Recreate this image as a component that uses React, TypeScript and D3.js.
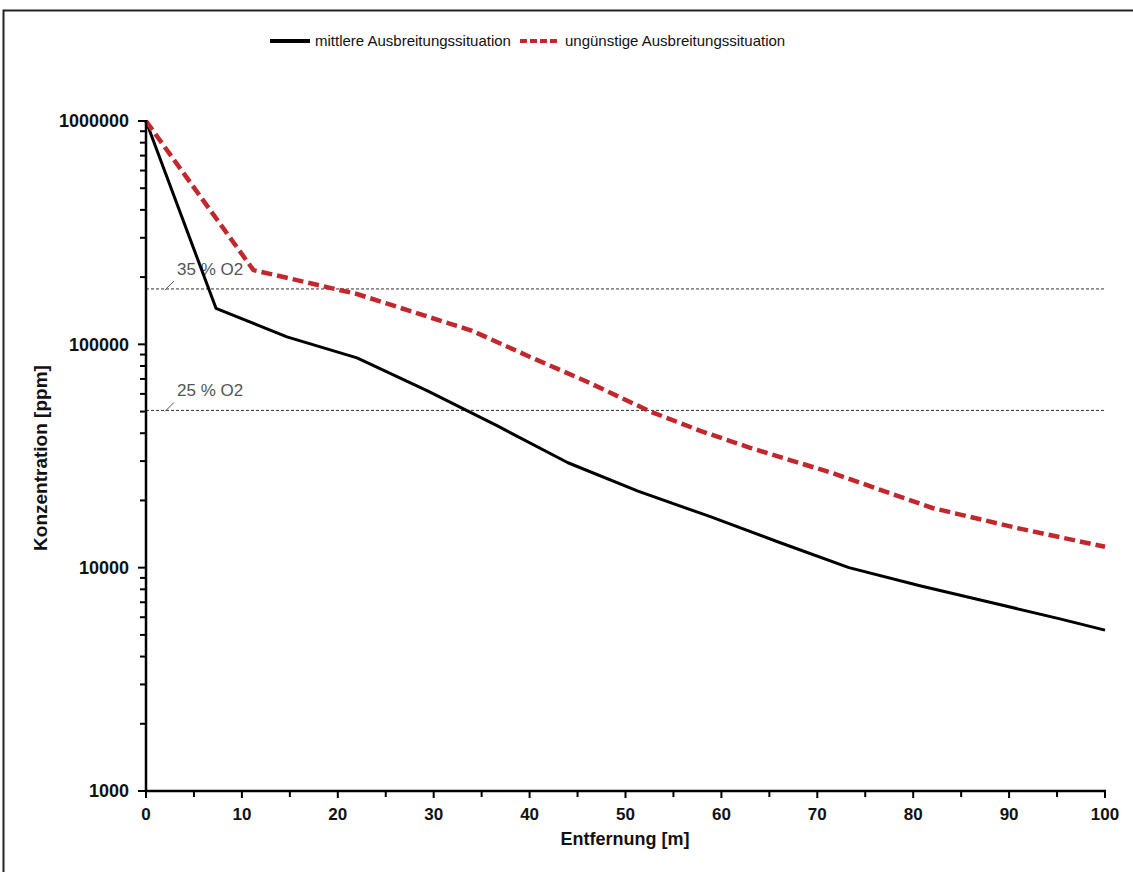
import React from "react";
import * as d3 from "d3";

// distances [m] and concentrations [ppm]
const meanDist = [0, 7.3, 14.7, 22, 29.3, 36.7, 44, 51.3, 58.7, 66, 73.3, 80.7, 88, 95.3, 100];
const meanConc = [1000000, 145000, 108000, 87000, 62000, 43000, 29500, 22000, 17000, 13000, 10000, 8300, 7000, 5900, 5250];

const worstDist = [0, 11.2, 22, 34, 40, 46, 52.6, 57.8, 63, 71.6, 82, 91, 100];
const worstConc = [1000000, 215000, 168000, 115000, 88000, 68000, 50000, 41000, 34400, 26500, 18500, 15000, 12400];

const limitLabels = ["35 % O2", "25 % O2"];
const limitValues = [177000, 50600];

const xTicks = [0, 10, 20, 30, 40, 50, 60, 70, 80, 90, 100];
const xMinorTicks = [5, 15, 25, 35, 45, 55, 65, 75, 85, 95];
const yTicks = [1000, 10000, 100000, 1000000];

const seriesNames = ["mittlere Ausbreitungssituation", "ungünstige Ausbreitungssituation"];

const W = 1133;
const H = 872;
const margin = { top: 121, right: 28, bottom: 81, left: 146 };
const RED = "#c1272d";
const FONT = "'Liberation Sans', Arial, sans-serif";

const App = () => {
  const x = d3.scaleLinear().domain([0, 100]).range([margin.left, W - margin.right]);
  const y = d3.scaleLog().domain([1000, 1000000]).range([H - margin.bottom, margin.top]);

  const line = d3
    .line<[number, number]>()
    .x((d) => x(d[0]))
    .y((d) => y(d[1]));

  const meanPts = meanDist.map((d, i) => [d, meanConc[i]] as [number, number]);
  const worstPts = worstDist.map((d, i) => [d, worstConc[i]] as [number, number]);

  // minor ticks 2..9 for each decade
  const yMinor: number[] = [];
  yTicks.slice(0, -1).forEach((t) => {
    for (let k = 2; k <= 9; k++) yMinor.push(t * k);
  });

  const x0 = x(0);
  const yBase = y(1000);

  return (
    <svg
      width={W}
      height={H}
      style={{ position: "absolute", left: 0, top: 0, background: "#fff" }}
      fontFamily={FONT}
    >
      <rect x={0} y={0} width={W} height={H} fill="#fff" />
      {/* outer frame */}
      <rect x={3.5} y={10.5} width={W + 20} height={H + 20} fill="none" stroke="#222" strokeWidth={2} />

      {/* legend */}
      <g>
        <line x1={270} x2={310} y1={41} y2={41} stroke="#000" strokeWidth={4} />
        <text x={315} y={46} fontSize={15} fill="#111">
          {seriesNames[0]}
        </text>
        <line x1={520} x2={558} y1={41} y2={41} stroke={RED} strokeWidth={4} strokeDasharray="7,3" />
        <text x={565} y={46} fontSize={15} fill="#111">
          {seriesNames[1]}
        </text>
      </g>

      {/* limit lines */}
      {limitValues.map((v, i) => (
        <g key={limitLabels[i]}>
          <line
            x1={x0}
            x2={x(100)}
            y1={y(v)}
            y2={y(v)}
            stroke="#333"
            strokeWidth={1}
            strokeDasharray="3,2"
          />
          <line x1={x0 + 19} x2={x0 + 28} y1={y(v) + 1} y2={y(v) - 8} stroke="#555" strokeWidth={1} />
          <text x={x0 + 31} y={y(v) - 14} fontSize={17} fill="#555">
            {limitLabels[i]}
          </text>
        </g>
      ))}

      {/* series */}
      <path d={line(meanPts) ?? ""} fill="none" stroke="#000" strokeWidth={3} strokeLinejoin="round" />
      <path
        d={line(worstPts) ?? ""}
        fill="none"
        stroke={RED}
        strokeWidth={4.5}
        strokeDasharray="11,5"
      />

      {/* y axis */}
      <line x1={x0} x2={x0} y1={y(1000000) - 1} y2={yBase + 1} stroke="#000" strokeWidth={2.5} />
      {yTicks.map((t) => (
        <g key={t}>
          <line x1={x0 - 8} x2={x0} y1={y(t)} y2={y(t)} stroke="#000" strokeWidth={2} />
          <text
            x={129}
            y={y(t)}
            dy="0.36em"
            textAnchor="end"
            fontSize={18}
            fontWeight="bold"
            fill="#111"
          >
            {t}
          </text>
        </g>
      ))}
      {yMinor.map((t) => (
        <line key={t} x1={x0 - 6} x2={x0} y1={y(t)} y2={y(t)} stroke="#000" strokeWidth={2} />
      ))}
      <text
        transform={`translate(47,458) rotate(-90)`}
        textAnchor="middle"
        fontSize={19}
        fontWeight="bold"
        fill="#111"
      >
        Konzentration [ppm]
      </text>

      {/* x axis */}
      <line x1={x0 - 1} x2={x(100) + 1} y1={yBase} y2={yBase} stroke="#000" strokeWidth={2.5} />
      {xTicks.map((t) => (
        <g key={t}>
          <line x1={x(t)} x2={x(t)} y1={yBase} y2={yBase + 7} stroke="#000" strokeWidth={2} />
          <text x={x(t)} y={820} textAnchor="middle" fontSize={17} fontWeight="bold" fill="#111">
            {t}
          </text>
        </g>
      ))}
      {xMinorTicks.map((t) => (
        <line key={t} x1={x(t)} x2={x(t)} y1={yBase} y2={yBase + 6} stroke="#000" strokeWidth={2} />
      ))}
      <text x={625} y={845} textAnchor="middle" fontSize={18} fontWeight="bold" fill="#111">
        Entfernung [m]
      </text>
    </svg>
  );
};

export default App;
